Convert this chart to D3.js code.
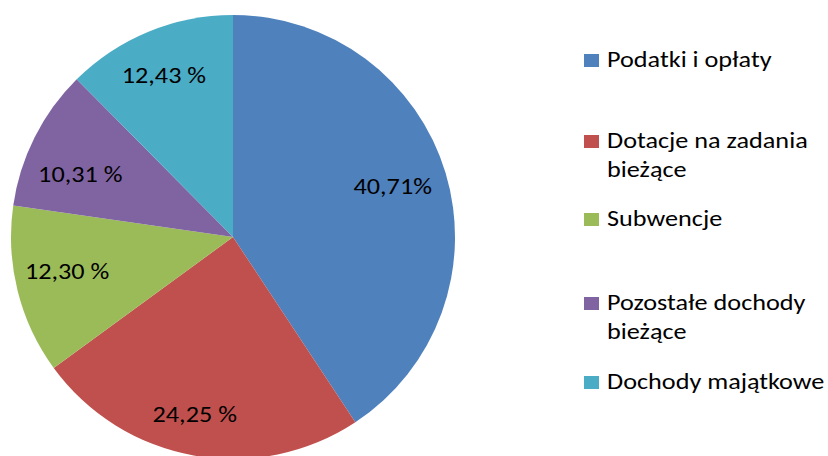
<!DOCTYPE html>
<html>
<head>
<meta charset="utf-8">
<script src="https://cdn.jsdelivr.net/npm/d3@7"></script>
<style>
  html, body { margin: 0; padding: 0; background: #fff; }
  svg text { font-family: Carlito, Lato, "Open Sans", sans-serif; fill: #000; }
</style>
</head>
<body>
<svg id="chart" width="828" height="456"></svg>
<script>
// slices, clockwise from 12 o'clock
const categories = ['Podatki i opłaty', 'Dotacje na zadania bieżące', 'Subwencje', 'Pozostałe dochody bieżące', 'Dochody majątkowe'];
const shares = [40.71, 24.25, 12.30, 10.31, 12.43];
const labels = ['40,71%', '24,25 %', '12,30 %', '10,31 %', '12,43 %'];
const legendLines = [['Podatki i opłaty'], ['Dotacje na zadania', 'bieżące'], ['Subwencje'], ['Pozostałe dochody', 'bieżące'], ['Dochody majątkowe']];
const colors = ['#4F81BD', '#C0504D', '#9BBB59', '#8064A2', '#4BACC6'];

const svg = d3.select('#chart');
const cx = 233, cy = 237, R = 222;
const FS = 21.5, SX = 1.22; // the source font is wide, stretch a bit

const pie = d3.pie().sort(null).value(d => d)(shares);
const arc = d3.arc().innerRadius(0).outerRadius(R);
const labelArc = d3.arc().innerRadius(R * 0.77).outerRadius(R * 0.77);
// best-fit tweaks, like the spreadsheet places them
const nudge = [[-4, -1], [-8, 9], [0, -7], [0, 14], [-4, -3]];

const g = svg.append('g').attr('transform', `translate(${cx},${cy})`);

g.selectAll('path').data(pie).join('path')
  .attr('d', arc)
  .attr('fill', (d, i) => colors[i]);

g.selectAll('text').data(pie).join('text')
  .attr('transform', (d, i) => {
    const [x, y] = labelArc.centroid(d);
    return `translate(${x + nudge[i][0]},${y + nudge[i][1]}) scale(${SX},1)`;
  })
  .attr('text-anchor', 'middle')
  .attr('dy', '0.35em')
  .attr('font-size', FS)
  .text((d, i) => labels[i]);

// legend
const baseY = [67, 148, 226, 310, 389]; // baseline of first line of each entry
const lg = svg.append('g');
categories.forEach((c, i) => {
  const row = lg.append('g').attr('transform', `translate(584,${baseY[i]})`);
  row.append('rect').attr('x', 0).attr('y', -13).attr('width', 15).attr('height', 13)
    .attr('fill', colors[i]);
  const t = row.append('text').attr('transform', `translate(23,0) scale(${SX},1)`)
    .attr('font-size', FS);
  legendLines[i].forEach((line, j) => {
    t.append('tspan').attr('x', 0).attr('y', j * 29).text(line);
  });
});
</script>
</body>
</html>
